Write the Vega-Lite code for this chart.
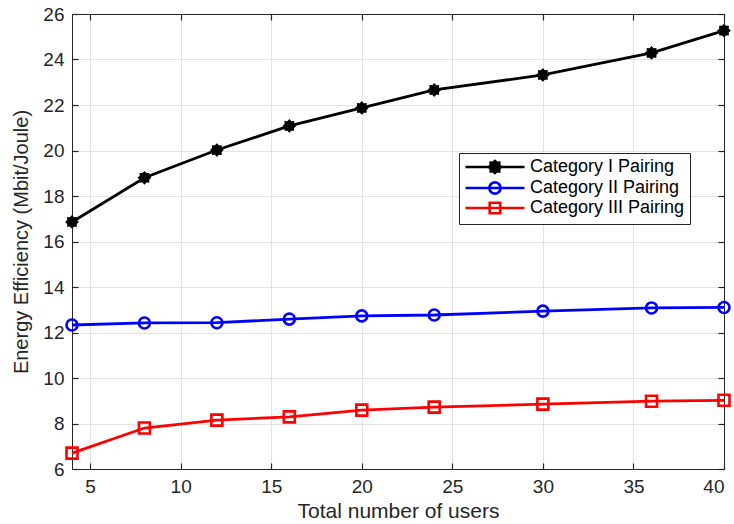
{
  "$schema": "https://vega.github.io/schema/vega-lite/v6.json",
  "width": 652,
  "height": 455,
  "autosize": {"type": "none"},
  "padding": {"left": 72, "top": 14, "right": 10, "bottom": 55},
  "background": "white",
  "config": {
    "font": "Liberation Sans",
    "view": {"stroke": null},
    "axis": {
      "labelFont": "Liberation Sans",
      "titleFont": "Liberation Sans",
      "labelColor": "#262626",
      "titleColor": "#262626",
      "titleFontWeight": "normal",
      "domainColor": "#262626",
      "domainWidth": 1,
      "tickColor": "#262626",
      "tickWidth": 1.2,
      "gridColor": "#e3e3e3",
      "gridWidth": 1
    },
    "legend": {"labelFont": "Liberation Sans"}
  },
  "data": {
    "values": [
      {"x": 4, "y": 16.86, "cat": "Category I Pairing"},
      {"x": 8, "y": 18.8, "cat": "Category I Pairing"},
      {"x": 12, "y": 20.02, "cat": "Category I Pairing"},
      {"x": 16, "y": 21.08, "cat": "Category I Pairing"},
      {"x": 20, "y": 21.87, "cat": "Category I Pairing"},
      {"x": 24, "y": 22.66, "cat": "Category I Pairing"},
      {"x": 30, "y": 23.32, "cat": "Category I Pairing"},
      {"x": 36, "y": 24.29, "cat": "Category I Pairing"},
      {"x": 40, "y": 25.27, "cat": "Category I Pairing"},
      {"x": 4, "y": 12.33, "cat": "Category II Pairing"},
      {"x": 8, "y": 12.42, "cat": "Category II Pairing"},
      {"x": 12, "y": 12.43, "cat": "Category II Pairing"},
      {"x": 16, "y": 12.59, "cat": "Category II Pairing"},
      {"x": 20, "y": 12.73, "cat": "Category II Pairing"},
      {"x": 24, "y": 12.77, "cat": "Category II Pairing"},
      {"x": 30, "y": 12.94, "cat": "Category II Pairing"},
      {"x": 36, "y": 13.08, "cat": "Category II Pairing"},
      {"x": 40, "y": 13.1, "cat": "Category II Pairing"},
      {"x": 4, "y": 6.7, "cat": "Category III Pairing"},
      {"x": 8, "y": 7.8, "cat": "Category III Pairing"},
      {"x": 12, "y": 8.15, "cat": "Category III Pairing"},
      {"x": 16, "y": 8.29, "cat": "Category III Pairing"},
      {"x": 20, "y": 8.59, "cat": "Category III Pairing"},
      {"x": 24, "y": 8.72, "cat": "Category III Pairing"},
      {"x": 30, "y": 8.85, "cat": "Category III Pairing"},
      {"x": 36, "y": 8.98, "cat": "Category III Pairing"},
      {"x": 40, "y": 9.02, "cat": "Category III Pairing"}
    ]
  },
  "layer": [
    {
      "mark": {"type": "line", "strokeWidth": 2.8},
      "encoding": {
        "x": {"field": "x", "type": "quantitative", "scale": {"domain": [4, 40], "nice": false, "zero": false},
          "axis": {"values": [5, 10, 15, 20, 25, 30, 35, 40], "title": "Total number of users", "titleFontSize": 21, "labelFontSize": 19, "tickSize": -6, "labelPadding": 14, "titlePadding": 4, "grid": true}},
        "y": {"field": "y", "type": "quantitative", "scale": {"domain": [6, 26], "nice": false, "zero": false},
          "axis": {"values": [6, 8, 10, 12, 14, 16, 18, 20, 22, 24, 26], "title": "Energy Efficiency (Mbit/Joule)", "titleFontSize": 20, "labelFontSize": 19, "tickSize": -6, "labelPadding": 14, "titlePadding": 11, "grid": true}},
        "color": {"field": "cat", "type": "nominal", "scale": {"domain": ["Category I Pairing", "Category II Pairing", "Category III Pairing"], "range": ["#000000", "#0000ff", "#ff0000"]}, "legend": null}
      }
    },
    {
      "transform": [{"filter": "datum.cat === 'Category I Pairing'"}],
      "mark": {"type": "point", "filled": true, "color": "#000000", "opacity": 1, "size": 190, "strokeWidth": 1.2,
        "shape": "M1,0L0.693,0.287L0.707,0.707L0.287,0.693L0,1L-0.287,0.693L-0.707,0.707L-0.693,0.287L-1,0L-0.693,-0.287L-0.707,-0.707L-0.287,-0.693L0,-1L0.287,-0.693L0.707,-0.707L0.693,-0.287Z"},
      "encoding": {
        "x": {"field": "x", "type": "quantitative", "axis": null},
        "y": {"field": "y", "type": "quantitative", "axis": null}
      }
    },
    {
      "transform": [{"filter": "datum.cat !== 'Category I Pairing'"}],
      "mark": {"type": "point", "filled": false, "opacity": 1, "size": 121, "strokeWidth": 2.6},
      "encoding": {
        "x": {"field": "x", "type": "quantitative", "axis": null},
        "y": {"field": "y", "type": "quantitative", "axis": null},
        "color": {"field": "cat", "type": "nominal", "scale": {"domain": ["Category II Pairing", "Category III Pairing"], "range": ["#0000ff", "#ff0000"]}, "legend": null},
        "shape": {"field": "cat", "type": "nominal", "scale": {"domain": ["Category II Pairing", "Category III Pairing"], "range": ["circle", "square"]}, "legend": null}
      }
    },
    {
      "mark": {"type": "point", "filled": false, "opacity": 0, "strokeWidth": 2.6},
      "encoding": {
        "x": {"field": "x", "type": "quantitative", "axis": null},
        "y": {"field": "y", "type": "quantitative", "axis": null},
        "color": {"field": "cat", "type": "nominal", "title": null,
          "scale": {"domain": ["Category I Pairing", "Category II Pairing", "Category III Pairing"], "range": ["#000000", "#0000ff", "#ff0000"]},
          "legend": {"orient": "none", "legendX": 387, "legendY": 139, "title": null, "labelFontSize": 18, "labelColor": "#000000", "symbolSize": 225, "symbolStrokeWidth": 2.6, "symbolOpacity": 1, "labelOffset": 48, "rowPadding": -2.5, "padding": 5, "strokeColor": "#262626", "fillColor": "#ffffff", "cornerRadius": 0}},
        "shape": {"field": "cat", "type": "nominal", "title": null,
          "scale": {"domain": ["Category I Pairing", "Category II Pairing", "Category III Pairing"],
            "range": [
              "M-1,0L6.87,0M3.73,0L3.48,0.3L3.5,0.57L3.23,0.55L2.93,0.8L2.63,0.55L2.36,0.57L2.38,0.3L2.13,0L2.38,-0.3L2.36,-0.57L2.63,-0.55L2.93,-0.8L3.23,-0.55L3.5,-0.57L3.48,-0.3ZM3.43,0A0.5,0.5,0,1,1,2.43,0A0.5,0.5,0,1,1,3.43,0M3.13,0A0.2,0.2,0,1,1,2.73,0A0.2,0.2,0,1,1,3.13,0",
              "M-1,0L6.87,0M3.68,0A0.75,0.75,0,1,1,2.18,0A0.75,0.75,0,1,1,3.68,0",
              "M-1,0L6.87,0M2.23,-0.7L3.63,-0.7L3.63,0.7L2.23,0.7Z"
            ]},
          "legend": {"orient": "none", "legendX": 387, "legendY": 139, "title": null, "labelFontSize": 18, "labelColor": "#000000", "symbolSize": 225, "symbolStrokeWidth": 2.6, "symbolOpacity": 1, "labelOffset": 48, "rowPadding": -2.5, "padding": 5, "strokeColor": "#262626", "fillColor": "#ffffff", "cornerRadius": 0}}
      }
    },
    {
      "mark": {"type": "line", "opacity": 0},
      "encoding": {
        "x": {"field": "x", "type": "quantitative", "axis": {"orient": "top", "values": [5, 10, 15, 20, 25, 30, 35, 40], "labels": false, "title": null, "tickSize": -6, "grid": false}},
        "y": {"field": "y", "type": "quantitative", "axis": {"orient": "right", "values": [6, 8, 10, 12, 14, 16, 18, 20, 22, 24, 26], "labels": false, "title": null, "tickSize": -6, "grid": false}},
        "detail": {"field": "cat"}
      }
    }
  ],
  "resolve": {
    "scale": {"color": "independent", "shape": "independent"},
    "axis": {"x": "independent", "y": "independent"}
  }
}
